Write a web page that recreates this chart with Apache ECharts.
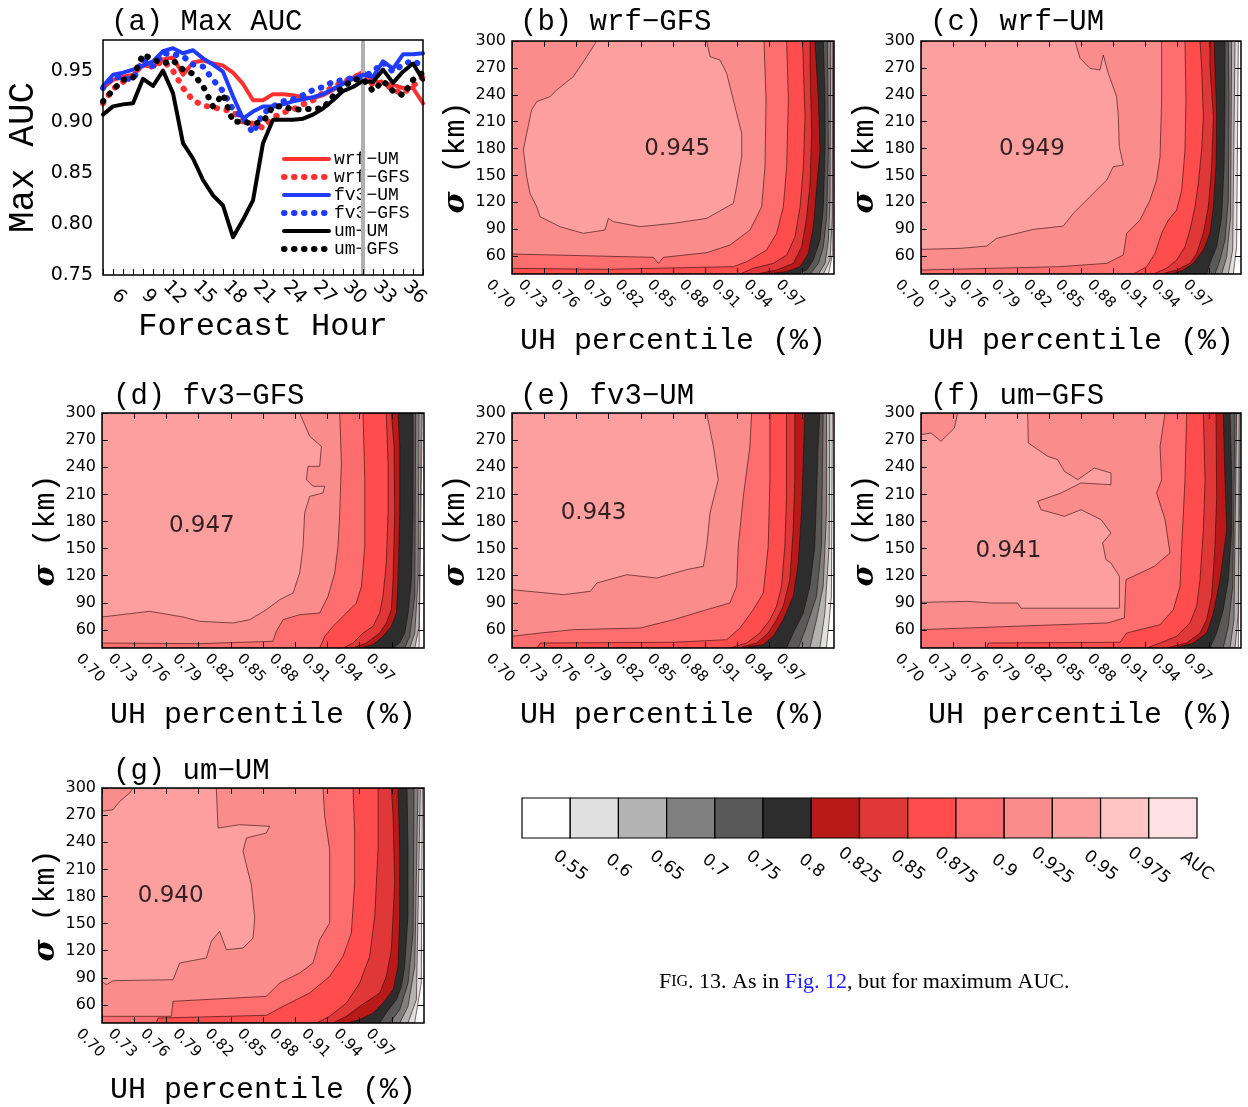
<!DOCTYPE html>
<html><head><meta charset="utf-8">
<script src="https://cdn.jsdelivr.net/npm/echarts@6/dist/echarts.min.js"></script>
<style>html,body{margin:0;padding:0;background:#fff}#c{width:1248px;height:1107px}</style>
</head><body><div id="c"></div>
<script>
// ---------- panel (a) data ----------
const hours = [4,5,6,7,8,9,10,11,12,13,14,15,16,17,18,19,20,21,22,23,24,25,26,27,28,29,30,31,32,33,34,35,36];
const wrfUM  = [0.933,0.941,0.944,0.946,0.955,0.954,0.961,0.963,0.946,0.958,0.960,0.957,0.955,0.948,0.937,0.921,0.921,0.927,0.927,0.926,0.924,0.923,0.926,0.931,0.938,0.943,0.949,0.940,0.938,0.936,0.933,0.933,0.918];
const wrfGFS = [0.918,0.932,0.939,0.944,0.960,0.953,0.960,0.950,0.933,0.921,0.916,0.914,0.912,0.910,0.900,0.898,0.894,0.904,0.909,0.912,0.917,0.921,0.928,0.934,0.939,0.943,0.947,0.936,0.939,0.931,0.928,0.935,0.944];
const fv3UM  = [0.935,0.946,0.948,0.951,0.955,0.959,0.969,0.972,0.967,0.970,0.962,0.956,0.949,0.925,0.903,0.910,0.915,0.915,0.917,0.920,0.922,0.924,0.927,0.932,0.937,0.942,0.946,0.944,0.959,0.952,0.966,0.966,0.967];
const fv3GFS = [0.933,0.944,0.943,0.941,0.961,0.954,0.967,0.966,0.964,0.956,0.954,0.941,0.930,0.912,0.904,0.889,0.908,0.915,0.920,0.922,0.926,0.931,0.934,0.939,0.941,0.943,0.944,0.949,0.958,0.949,0.956,0.960,0.954];
const umUM   = [0.907,0.915,0.917,0.918,0.942,0.935,0.950,0.928,0.879,0.864,0.843,0.828,0.818,0.787,0.804,0.823,0.879,0.902,0.902,0.902,0.903,0.907,0.913,0.921,0.930,0.934,0.940,0.939,0.951,0.938,0.949,0.957,0.941];
const umGFS  = [0.920,0.931,0.941,0.943,0.966,0.961,0.957,0.960,0.951,0.947,0.935,0.915,0.927,0.900,0.900,0.898,0.900,0.915,0.915,0.912,0.912,0.913,0.913,0.925,0.934,0.941,0.942,0.930,0.940,0.930,0.926,0.941,0.948];
const lineNames = ['wrf−UM','wrf−GFS','fv3−UM','fv3−GFS','um−UM','um−GFS'];
const hourLabels = [6,9,12,15,18,21,24,27,30,33,36];
const aucTicks = [0.75,0.80,0.85,0.90,0.95];
const splitHour = 30;

// ---------- contour panels ----------
const pctTicks = [0.70,0.73,0.76,0.79,0.82,0.85,0.88,0.91,0.94,0.97];
const sigmaTicks = [60,90,120,150,180,210,240,270,300];
const levelValues = [0.5,0.55,0.6,0.65,0.7,0.75,0.8,0.825,0.85,0.875,0.9,0.925,0.95,0.975];
const levelColors = ['#ffffff','#e0e0e0','#b3b3b3','#808080','#595959','#2d2d2d','#b81a1a','#e03838','#ff4c4c','#ff6e6e','#fa8c8c','#fd9f9f','#ffc5c5','#ffe0e4'];
const colorbarLabels = ['0.55','0.6','0.65','0.7','0.75','0.8','0.825','0.85','0.875','0.9','0.925','0.95','0.975','AUC'];
const panelTitles = ['(a) Max AUC','(b) wrf−GFS','(c) wrf−UM','(d) fv3−GFS','(e) fv3−UM','(f) um−GFS','(g) um−UM'];
const peakText = ['0.945','0.949','0.947','0.943','0.941','0.940'];
const peakPct = [0.854,0.804,0.793,0.776,0.782,0.764];
const peakSigma = [180,180,175,189,147,180];

// each entry: [lower level, polygon of {AUC >= level} as [UH percentile, sigma]]
const contourB = [
 [0.55,[[0.70,40],[0.9948,40],[0.9988,63],[0.9997,300],[0.70,300]]],
 [0.6,[[0.70,40],[0.9901,40],[0.9963,55.6],[0.9985,104],[0.9988,300],[0.70,300]]],
 [0.65,[[0.70,40],[0.9855,40],[0.9917,51.9],[0.9948,78],[0.9963,122.6],[0.9969,300],[0.70,300]]],
 [0.7,[[0.70,40],[0.9777,40],[0.9855,51.9],[0.9901,70.5],[0.9932,104],[0.9948,178.4],[0.9938,300],[0.70,300]]],
 [0.75,[[0.70,40],[0.9653,40],[0.9746,44.4],[0.9808,55.6],[0.987,78],[0.9901,115.1],[0.9917,178.4],[0.9917,234.2],[0.9901,300],[0.70,300]]],
 [0.8,[[0.70,40],[0.9357,40],[0.9559,42.6],[0.9684,48.2],[0.9761,63],[0.9808,92.8],[0.9839,137.4],[0.987,178.4],[0.9855,234.2],[0.9823,300],[0.70,300]]],
 [0.825,[[0.70,40],[0.928,40],[0.9466,44.4],[0.9621,51.9],[0.9699,70.5],[0.9746,104],[0.9777,141.2],[0.9792,197],[0.9777,271.4],[0.9777,300],[0.70,300]]],
 [0.85,[[0.70,40],[0.9125,40],[0.9249,46.3],[0.9435,51.9],[0.9559,61.2],[0.9637,81.6],[0.9684,115.1],[0.9715,159.8],[0.973,215.6],[0.9715,271.4],[0.9708,300],[0.70,300]]],
 [0.875,[[0.70,46.3],[0.7882,45.2],[0.9062,48.2],[0.9187,53.7],[0.9373,66.8],[0.9466,85.4],[0.9528,115.1],[0.9559,159.8],[0.9575,234.2],[0.9559,300],[0.70,300]]],
 [0.9,[[0.70,62.3],[0.8317,58.6],[0.8364,51.9],[0.841,58.6],[0.8814,63.8],[0.9031,72.3],[0.9218,89.1],[0.9326,115.1],[0.9357,159.8],[0.9367,234.2],[0.9348,300],[0.70,300]]],
 [0.925,[[0.7789,300],[0.7696,282.5],[0.7571,260.2],[0.7416,245.3],[0.7354,237.9],[0.723,232.3],[0.7183,223],[0.7137,197],[0.7106,178.4],[0.7137,148.6],[0.7168,130],[0.723,115.1],[0.7261,104],[0.7447,92.8],[0.7665,85.4],[0.7867,89.1],[0.7898,102.1],[0.7944,98.4],[0.8193,92.8],[0.8503,96.5],[0.8814,102.1],[0.9062,118.8],[0.9093,137.4],[0.914,170.9],[0.914,197],[0.9062,234.2],[0.9,263.9],[0.8938,278.8],[0.8845,282.5],[0.8814,300]]]
];
const contourC = [
 [0.55,[[0.70,40],[0.9928,40],[0.9959,70.5],[0.9975,300],[0.70,300]]],
 [0.6,[[0.70,40],[0.9881,40],[0.9922,66.8],[0.9944,300],[0.70,300]]],
 [0.65,[[0.70,40],[0.9819,40],[0.9866,59.3],[0.9903,104],[0.9912,300],[0.70,300]]],
 [0.7,[[0.70,40],[0.9756,40],[0.9803,55.6],[0.985,78],[0.9881,122.6],[0.9888,234.2],[0.9881,300],[0.70,300]]],
 [0.75,[[0.70,40],[0.9678,40],[0.9709,51.9],[0.9772,70.5],[0.9819,104],[0.9841,159.8],[0.985,234.2],[0.985,300],[0.70,300]]],
 [0.8,[[0.70,40],[0.935,40],[0.9459,44.4],[0.9553,51.9],[0.9647,66.8],[0.9709,85.4],[0.9741,115.1],[0.9766,159.8],[0.9772,215.6],[0.9756,271.4],[0.975,300],[0.70,300]]],
 [0.825,[[0.70,40],[0.9256,40],[0.9397,44.4],[0.9522,51.9],[0.9584,63],[0.9647,85.4],[0.9694,115.1],[0.9725,159.8],[0.9741,215.6],[0.9709,271.4],[0.9709,300],[0.70,300]]],
 [0.85,[[0.70,40],[0.9178,40],[0.9303,46.3],[0.9397,55.6],[0.9475,70.5],[0.9522,89.1],[0.9569,115.1],[0.96,141.2],[0.9631,178.4],[0.9647,215.6],[0.9631,271.4],[0.9616,300],[0.70,300]]],
 [0.875,[[0.70,40],[0.8991,40],[0.9116,48.2],[0.9194,63],[0.9256,85.4],[0.9319,100.2],[0.9397,111.4],[0.9444,133.7],[0.9475,178.4],[0.9484,234.2],[0.9475,300],[0.70,300]]],
 [0.9,[[0.70,44.4],[0.8303,48.2],[0.8741,51.9],[0.8897,61.2],[0.8928,85.4],[0.9053,100.2],[0.9147,122.6],[0.9209,144.9],[0.9241,170.9],[0.9256,234.2],[0.9256,300],[0.70,300]]],
 [0.925,[[0.70,67.5],[0.7366,68.6],[0.7616,71.2],[0.7709,79.8],[0.8053,89.8],[0.8334,93.5],[0.8428,107.7],[0.8584,126.3],[0.8741,144.9],[0.8803,159.8],[0.8897,161.6],[0.8859,182.1],[0.885,215.6],[0.8834,237.9],[0.8756,263.9],[0.8709,284.4],[0.8678,267.6],[0.8584,269.5],[0.8491,280.7],[0.8444,300],[0.70,300]]]
];
const contourD = [
 [0.55,[[0.70,40],[0.9954,40],[0.9985,300],[0.70,300]]],
 [0.6,[[0.70,40],[0.9914,40],[0.9954,64],[0.9975,300],[0.70,300]]],
 [0.65,[[0.70,40],[0.9867,40],[0.9914,56.6],[0.9945,115.6],[0.9954,300],[0.70,300]]],
 [0.7,[[0.70,40],[0.9821,40],[0.9867,52.9],[0.9914,97.2],[0.9923,300],[0.70,300]]],
 [0.75,[[0.70,40],[0.9712,40],[0.9774,45.5],[0.9821,56.6],[0.9852,78.7],[0.9883,115.6],[0.9898,189.4],[0.9898,300],[0.70,300]]],
 [0.8,[[0.70,40],[0.9401,40],[0.9525,43.7],[0.9618,52.9],[0.9696,64],[0.9743,78.7],[0.9758,115.6],[0.9774,189.4],[0.9774,263.1],[0.9758,300],[0.70,300]]],
 [0.825,[[0.70,40],[0.9339,40],[0.9463,45.5],[0.9587,56.6],[0.9649,67.7],[0.9696,82.4],[0.9712,115.6],[0.9727,189.4],[0.9721,263.1],[0.9696,300],[0.70,300]]],
 [0.85,[[0.70,40],[0.9246,40],[0.9339,45.5],[0.9432,56.6],[0.9525,64],[0.9587,78.7],[0.9618,97.2],[0.9649,134],[0.9665,189.4],[0.9665,244.7],[0.9649,300],[0.70,300]]],
 [0.875,[[0.70,40],[0.9028,40],[0.9075,52.9],[0.9152,63.9],[0.9277,78.7],[0.937,89.8],[0.9417,108.2],[0.9448,152.5],[0.9448,226.2],[0.9432,300],[0.70,300]]],
 [0.9,[[0.70,45.5],[0.791,44.8],[0.8593,47.4],[0.8624,58.4],[0.8687,71.3],[0.8842,76.9],[0.9028,78.7],[0.9106,97.2],[0.9168,123],[0.9199,152.5],[0.9215,189.4],[0.923,244.7],[0.9215,300],[0.70,300]]],
 [0.925,[[0.70,74.3],[0.7444,80.6],[0.7755,74.3],[0.791,69.5],[0.8221,67.7],[0.8376,71.3],[0.8531,82.4],[0.8656,93.5],[0.878,100.8],[0.8842,123],[0.8873,152.5],[0.8888,189.4],[0.8935,207.8],[0.9059,211.5],[0.9075,218.9],[0.8966,218.9],[0.8904,226.2],[0.8919,241],[0.9028,241],[0.9044,263.1],[0.8935,274.2],[0.8842,300],[0.70,300]]]
];
const contourE = [
 [0.55,[[0.70,40],[0.993,40],[0.9976,97.2],[0.9985,300],[0.70,300]]],
 [0.6,[[0.70,40],[0.9868,40],[0.9915,78.7],[0.9955,152.5],[0.9961,300],[0.70,300]]],
 [0.65,[[0.70,40],[0.9775,40],[0.9837,71.3],[0.9899,108.2],[0.993,189.4],[0.993,300],[0.70,300]]],
 [0.7,[[0.70,40],[0.9667,40],[0.9744,64],[0.9837,97.2],[0.9883,152.5],[0.9899,300],[0.70,300]]],
 [0.75,[[0.70,40],[0.9558,40],[0.962,56.6],[0.9713,78.7],[0.9775,108.2],[0.9821,152.5],[0.9837,207.8],[0.9852,263.1],[0.9868,300],[0.70,300]]],
 [0.8,[[0.70,40],[0.9139,40],[0.934,43.7],[0.9434,52.9],[0.9527,71.3],[0.962,97.2],[0.9667,134.1],[0.9697,189.4],[0.9713,244.7],[0.9728,300],[0.70,300]]],
 [0.825,[[0.70,40],[0.9108,40],[0.9279,45.5],[0.9387,56.6],[0.9465,71.3],[0.9527,86.1],[0.9589,115.6],[0.962,170.9],[0.9635,226.2],[0.9635,300],[0.70,300]]],
 [0.85,[[0.70,40],[0.903,40],[0.9186,45.5],[0.931,56.6],[0.9403,71.3],[0.9465,86.1],[0.9511,108.2],[0.9542,152.5],[0.9558,207.8],[0.9558,300],[0.70,300]]],
 [0.875,[[0.70,40],[0.7233,40],[0.7264,45.5],[0.8504,46.3],[0.90,49.2],[0.9124,62.1],[0.9248,82.4],[0.9341,100.8],[0.9387,152.5],[0.9403,226.2],[0.9403,300],[0.70,300]]],
 [0.9,[[0.70,52.9],[0.7264,56.6],[0.7574,60.3],[0.8194,62.1],[0.8504,71.3],[0.8814,82.4],[0.903,89.8],[0.9093,108.2],[0.9108,152.5],[0.9155,207.8],[0.9217,263.1],[0.9232,300],[0.70,300]]],
 [0.925,[[0.70,104.5],[0.748,99],[0.7729,102.7],[0.7791,111.9],[0.807,121.1],[0.8349,117.4],[0.8628,126.7],[0.8783,130.4],[0.8814,152.5],[0.8845,189.4],[0.8922,226.2],[0.8876,263.1],[0.8814,300],[0.70,300]]]
];
const contourF = [
 [0.55,[[0.70,40],[0.9975,40],[0.9994,300],[0.70,300]]],
 [0.6,[[0.70,40],[0.9944,40],[0.9975,78.7],[0.9984,300],[0.70,300]]],
 [0.65,[[0.70,40],[0.9897,40],[0.9934,71.3],[0.9959,300],[0.70,300]]],
 [0.7,[[0.70,40],[0.9834,40],[0.9881,64],[0.9922,108.2],[0.9944,300],[0.70,300]]],
 [0.75,[[0.70,40],[0.9709,40],[0.9772,56.6],[0.9834,82.4],[0.9881,115.6],[0.9913,170.9],[0.9913,226.2],[0.9897,300],[0.70,300]]],
 [0.8,[[0.70,40],[0.9381,40],[0.9553,45.5],[0.9678,56.6],[0.9741,78.7],[0.9803,115.6],[0.9866,170.9],[0.985,226.2],[0.9834,300],[0.70,300]]],
 [0.825,[[0.70,40],[0.9303,40],[0.949,45.5],[0.9616,56.6],[0.9678,71.3],[0.9725,97.2],[0.9756,152.5],[0.9772,207.8],[0.9766,300],[0.70,300]]],
 [0.85,[[0.70,40],[0.9116,40],[0.9241,45.5],[0.9397,52.9],[0.9522,67.7],[0.9584,86.1],[0.9616,115.6],[0.9647,170.9],[0.9663,226.2],[0.9647,300],[0.70,300]]],
 [0.875,[[0.70,40],[0.7616,40],[0.7631,45.5],[0.8866,46.3],[0.8928,56.6],[0.9241,65.8],[0.9366,82.4],[0.9428,108.2],[0.9444,152.5],[0.9475,226.2],[0.9491,300],[0.70,300]]],
 [0.9,[[0.70,60.3],[0.875,67.7],[0.8906,73.2],[0.8922,115.6],[0.9188,130.4],[0.9334,145.1],[0.9288,182],[0.9209,211.5],[0.9256,226.2],[0.9241,263.1],[0.9288,300],[0.70,300]]],
 [0.925,[[0.70,90.5],[0.7438,91.6],[0.7656,89.8],[0.7906,89.8],[0.7938,84],[0.886,84],[0.886,119.3],[0.8781,134],[0.8734,137.7],[0.8703,156.2],[0.8781,167.2],[0.8688,182],[0.85,193],[0.8344,185.7],[0.8125,193],[0.8094,202.3],[0.8313,211.5],[0.85,222.6],[0.8781,220.7],[0.8781,233.6],[0.8625,239.1],[0.8469,226.2],[0.8344,235.5],[0.8281,248.4],[0.8188,252.1],[0.8006,266.8],[0.80,300],[0.7344,300],[0.7313,283.4],[0.7188,268.7],[0.7094,277.9],[0.70,276]]]
];
const contourG = [
 [0.55,[[0.70,40],[0.9913,40],[0.9975,84.3],[0.9985,300],[0.70,300]]],
 [0.6,[[0.70,40],[0.9851,40],[0.9929,65.8],[0.9966,300],[0.70,300]]],
 [0.65,[[0.70,40],[0.9774,40],[0.9851,58.4],[0.9914,102.7],[0.9944,300],[0.70,300]]],
 [0.7,[[0.70,40],[0.968,40],[0.9774,54.7],[0.9851,84.3],[0.9898,139.6],[0.9907,300],[0.70,300]]],
 [0.75,[[0.70,40],[0.9587,40],[0.9649,51.1],[0.9743,65.8],[0.979,80.6],[0.982,102.7],[0.9851,158],[0.9851,231.8],[0.9842,300],[0.70,300]]],
 [0.8,[[0.70,40],[0.9277,40],[0.9401,43.7],[0.9525,51.1],[0.9618,62.1],[0.9712,76.9],[0.9758,102.7],[0.9774,158],[0.9774,231.8],[0.9758,300],[0.70,300]]],
 [0.825,[[0.70,40],[0.9152,40],[0.9277,47.4],[0.9401,58.4],[0.9587,73.2],[0.9649,91.6],[0.9696,121.1],[0.9727,194.9],[0.9712,268.7],[0.9696,300],[0.70,300]]],
 [0.85,[[0.70,40],[0.8997,40],[0.9121,47.4],[0.9277,62.1],[0.9401,84.3],[0.9494,113.8],[0.9541,158],[0.9572,231.8],[0.9572,300],[0.70,300]]],
 [0.875,[[0.70,40],[0.7506,40],[0.7522,45.5],[0.8531,48.5],[0.8687,58.4],[0.8935,73.2],[0.9121,91.6],[0.9246,113.8],[0.9323,139.6],[0.9354,194.9],[0.9354,250.2],[0.9339,300],[0.70,300]]],
 [0.9,[[0.70,47.4],[0.7646,47.4],[0.7662,64],[0.8531,69.5],[0.8655,84.3],[0.8842,95.3],[0.8966,106.4],[0.9028,132.2],[0.9121,150.6],[0.9121,231.8],[0.9075,268.7],[0.9059,300],[0.70,300]]],
 [0.925,[[0.70,86.1],[0.704,82.4],[0.7103,86.8],[0.7662,87.9],[0.7724,106.4],[0.7972,111.9],[0.8019,130.4],[0.8096,141.4],[0.8159,121.1],[0.8314,123],[0.8407,134],[0.8423,156.2],[0.8391,193],[0.8314,229.9],[0.8345,244.7],[0.8531,250.2],[0.8562,257.6],[0.8283,259.4],[0.8081,255.7],[0.8065,300],[0.7289,300],[0.7258,294.5],[0.7165,285.2],[0.7103,276],[0.70,274.2]]]
];

// ---------- build ----------
const MONO = 'Liberation Mono';
const SANS = 'DejaVu Sans';
function colorOf(l){ return levelColors[levelValues.indexOf(l)]; }

const grids = [], xAxes = [], yAxes = [], series = [], titles = [];

// panel (a)
grids.push({left:103, top:40, width:320, height:235, show:true, borderColor:'#000', borderWidth:1.5, backgroundColor:'transparent', z:10});
xAxes.push({gridIndex:0, type:'value', min:4, max:36, interval:1, z:11,
  axisLine:{show:false}, splitLine:{show:false},
  axisTick:{inside:true, length:6, lineStyle:{color:'#000', width:1}},
  axisLabel:{customValues:hourLabels, rotate:-45, align:'right', margin:26, fontFamily:SANS, fontSize:19, color:'#000'},
  name:'Forecast Hour', nameLocation:'middle', nameGap:31, nameTextStyle:{fontFamily:MONO, fontSize:32, color:'#000'}});
yAxes.push({gridIndex:0, type:'value', min:0.75, max:0.98, z:11,
  axisLine:{show:false}, splitLine:{show:false}, axisTick:{show:false},
  axisLabel:{customValues:aucTicks, formatter:v=>v.toFixed(2), margin:10, fontFamily:SANS, fontSize:19, color:'#000'},
  name:'Max AUC', nameLocation:'middle', nameGap:62, nameTextStyle:{fontFamily:MONO, fontSize:36, color:'#000'}});
const lineVals = [wrfUM, wrfGFS, fv3UM, fv3GFS, umUM, umGFS];
const lineCols = ['#ff3030','#ff3030','#1f3bff','#1f3bff','#000000','#000000'];
const lineStyles = lineCols.map((c, k) => (k % 2 === 1)
  ? {color:c, width:6, type:[0.5,9.5], cap:'round'}
  : {color:c, width:4, type:'solid', cap:'round', join:'round'});
lineVals.forEach((vals, k) => {
  const s = {name:lineNames[k], type:'line', xAxisIndex:0, yAxisIndex:0, symbol:'none', z:3+k,
    data: hours.map((h,i)=>[h, vals[i]]),
    lineStyle: lineStyles[k], itemStyle:{color:lineCols[k]}};
  if (k === 5) {
    s.markLine = {silent:true, symbol:'none', label:{show:false}, animation:false,
      lineStyle:{color:'#b0b0b0', width:4, type:'solid'}, data:[{xAxis:splitHour}]};
  }
  series.push(s);
});

// contour panels
const contourLayouts = [
  {left:512, top:41, width:322, height:233},
  {left:921, top:41, width:320, height:233},
  {left:102, top:413, width:322, height:235},
  {left:512, top:413, width:322, height:235},
  {left:921, top:413, width:320, height:235},
  {left:102, top:788, width:322, height:235}
];
const contours = [contourB, contourC, contourD, contourE, contourF, contourG];
contours.forEach((polys, p) => {
  const gi = grids.length;
  grids.push(Object.assign({show:true, borderColor:'#000', borderWidth:1.5, backgroundColor:'transparent', z:10}, contourLayouts[p]));
  const xi = xAxes.length, yi = yAxes.length;
  xAxes.push({gridIndex:gi, type:'value', min:0.70, max:1.0, z:11,
    axisLine:{show:false}, splitLine:{show:false},
    axisTick:{inside:true, length:6, customValues:pctTicks, lineStyle:{color:'#000'}},
    axisLabel:{customValues:pctTicks, formatter:v=>v.toFixed(2), rotate:-45, align:'right', margin:32, fontFamily:SANS, fontSize:15, color:'#000'},
    name:'UH percentile (%)', nameLocation:'middle', nameGap:52, nameTextStyle:{fontFamily:MONO, fontSize:30, color:'#000'}});
  xAxes.push({gridIndex:gi, type:'value', min:0.70, max:1.0, position:'top', z:11,
    axisLine:{show:false}, splitLine:{show:false}, axisLabel:{show:false},
    axisTick:{inside:true, length:6, customValues:pctTicks, lineStyle:{color:'#000'}}});
  yAxes.push({gridIndex:gi, type:'value', min:40, max:300, z:11,
    axisLine:{show:false}, splitLine:{show:false},
    axisTick:{inside:true, length:6, customValues:sigmaTicks, lineStyle:{color:'#000'}},
    axisLabel:{customValues:sigmaTicks, margin:6, fontFamily:SANS, fontSize:16, color:'#000'},
    name:'{s|σ} (km)', nameLocation:'middle', nameGap:36,
    nameTextStyle:{fontFamily:MONO, fontSize:30, color:'#000', rich:{s:{fontFamily:'DejaVu Serif', fontWeight:'bold', fontStyle:'italic', fontSize:30, color:'#000'}}}});
  yAxes.push({gridIndex:gi, type:'value', min:40, max:300, position:'right', z:11,
    axisLine:{show:false}, splitLine:{show:false}, axisLabel:{show:false},
    axisTick:{inside:true, length:6, customValues:sigmaTicks, lineStyle:{color:'#000'}}});
  series.push({type:'custom', xAxisIndex:xi, yAxisIndex:yi, z:2, silent:true, clip:true,
    data: polys.map((q, i) => [0.8, 150, i]), encode:{x:0, y:1},
    renderItem: function (params, api) {
      const q = polys[params.dataIndex];
      return {type:'polygon', shape:{points: q[1].map(pt => api.coord(pt))},
        style:{fill: colorOf(q[0]), stroke:'rgba(40,10,10,0.75)', lineWidth:0.8}};
    }});
  series.push({type:'scatter', xAxisIndex:xi, yAxisIndex:yi, z:6, silent:true,
    symbolSize:1, itemStyle:{color:'rgba(0,0,0,0)'},
    data:[[peakPct[p], peakSigma[p]]],
    label:{show:true, position:'inside', formatter:()=>peakText[p], fontFamily:SANS, fontSize:23, color:'#000'}});
});

// colorbar
const cbGrid = grids.length;
grids.push({left:522, top:798, width:675, height:40, show:false});
const cbx = xAxes.length, cby = yAxes.length;
xAxes.push({gridIndex:cbGrid, type:'value', min:0, max:14, axisLine:{show:false}, axisTick:{show:false}, splitLine:{show:false},
  axisLabel:{customValues:[1,2,3,4,5,6,7,8,9,10,11,12,13,14], formatter:v=>colorbarLabels[Math.round(v)-1], rotate:-38, align:'center', margin:28, fontFamily:SANS, fontSize:17, color:'#000'}});
yAxes.push({gridIndex:cbGrid, type:'value', min:0, max:1, show:false});
series.push({type:'custom', xAxisIndex:cbx, yAxisIndex:cby, silent:true,
  data: levelColors.map((c,i)=>[i+0.5, 0.5, i]), encode:{x:0, y:1},
  renderItem: function (params, api) {
    const i = params.dataIndex;
    const p0 = api.coord([i, 1]), p1 = api.coord([i+1, 0]);
    return {type:'rect', shape:{x:p0[0], y:p0[1], width:p1[0]-p0[0], height:p1[1]-p0[1]},
      style:{fill:levelColors[i], stroke:'#000', lineWidth:1.2}};
  }});

// titles
const titlePos = [[106,3],[515,3],[925,3],[108,377],[515,377],[925,377],[108,752]];
panelTitles.forEach((t,i)=>titles.push({text:t, left:titlePos[i][0], top:titlePos[i][1],
  textStyle:{fontFamily:MONO, fontSize:29, fontWeight:'normal', color:'#000'}}));
titles.push({text:'{a|F}{b|IG}{a|. 13. As in }{c|Fig. 12}{a|, but for maximum AUC.}', left:654, top:966,
  textStyle:{fontWeight:'normal', rich:{a:{fontFamily:'Liberation Serif', fontSize:22, fontWeight:'normal', color:'#000'},
                   b:{fontFamily:'Liberation Serif', fontSize:16, fontWeight:'normal', color:'#000'},
                   c:{fontFamily:'Liberation Serif', fontSize:22, fontWeight:'normal', color:'#1a1aff'}}}});

const chart = echarts.init(document.getElementById('c'), null, {renderer:'canvas'});
chart.setOption({
  animation:false,
  backgroundColor:'#ffffff',
  title: titles,
  legend:{data: lineNames.map((n,k)=>({name:n, lineStyle:Object.assign({}, lineStyles[k])})),
    orient:'vertical', left:276, top:145, itemWidth:45, itemHeight:14, itemGap:0,
    itemStyle:{opacity:0, color:'rgba(0,0,0,0)', borderWidth:0},
    textStyle:{fontFamily:MONO, fontSize:18, color:'#000', lineHeight:17.8, height:17.8}, selectedMode:false},
  grid: grids, xAxis: xAxes, yAxis: yAxes, series: series
});
</script></body></html>
